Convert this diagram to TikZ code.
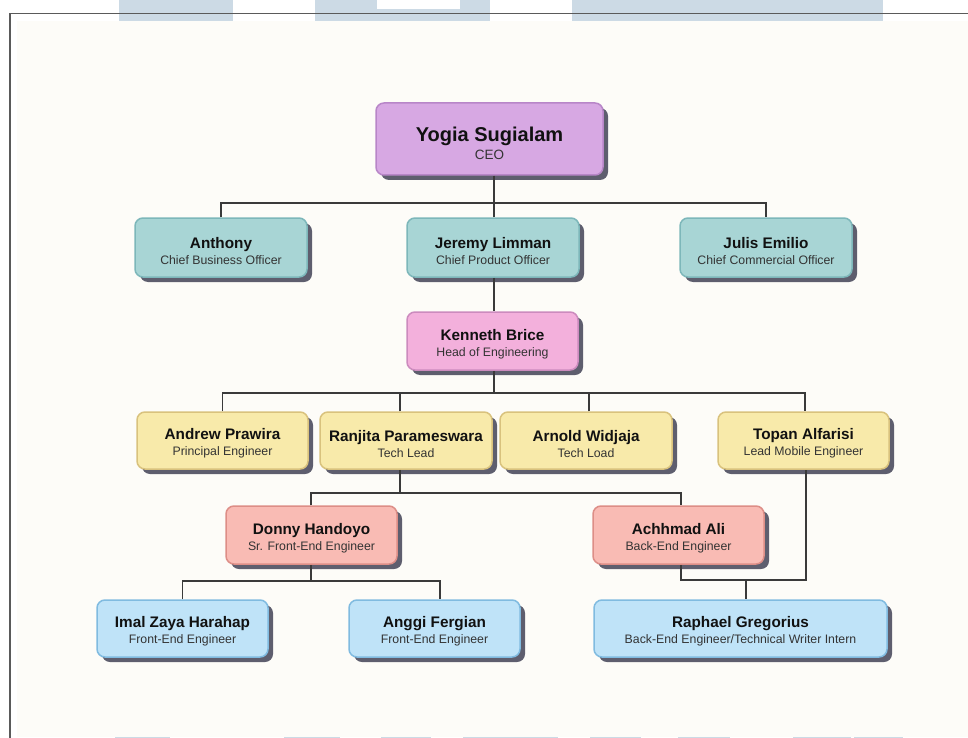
\documentclass[tikz,border=0pt]{standalone}
\usepackage{fontspec}
\setmainfont{Liberation Sans}
\usetikzlibrary{shadows}
\definecolor{cream}{HTML}{FDFCF8}
\definecolor{barc}{HTML}{CCDAE5}
\definecolor{framec}{HTML}{5A5A5A}
\definecolor{linec}{HTML}{3A3A3A}
\definecolor{shadowc}{HTML}{5E5E6E}
\definecolor{ceofill}{HTML}{D7A8E3}\definecolor{ceodraw}{HTML}{B886C8}
\definecolor{tealfill}{HTML}{A8D5D5}\definecolor{tealdraw}{HTML}{7DB7BA}
\definecolor{pinkfill}{HTML}{F3B0DC}\definecolor{pinkdraw}{HTML}{CC8BBE}
\definecolor{yelfill}{HTML}{F8EAAA}\definecolor{yeldraw}{HTML}{D9C27D}
\definecolor{salfill}{HTML}{F9BBB4}\definecolor{saldraw}{HTML}{DD8E87}
\definecolor{bluefill}{HTML}{BFE3F8}\definecolor{bluedraw}{HTML}{80BBE0}
\definecolor{namec}{HTML}{111111}
\definecolor{subc}{HTML}{333333}
\newcommand{\nm}[1]{{\fontsize{15.3}{16}\selectfont\bfseries\color{namec}\rule{0pt}{17.5pt}#1}}
\newcommand{\sbt}[1]{{\color{subc}#1}}
\begin{document}
\begin{tikzpicture}[x=1pt,y=-1pt,
  card/.style={rounded corners=8pt, line width=1.5pt, inner sep=0pt, align=center,
    minimum width=171pt, minimum height=57pt,
    font=\fontsize{12.3}{16}\selectfont,
    drop shadow={shadow xshift=5pt, shadow yshift=-5pt, fill=shadowc, opacity=1}},
  ceocard/.style={card, fill=ceofill, draw=ceodraw, minimum width=227pt, minimum height=72pt,
    font=\fontsize{13.5}{18}\selectfont},
  tealcard/.style={card, fill=tealfill, draw=tealdraw, minimum width=172pt, minimum height=59pt},
  pinkcard/.style={card, fill=pinkfill, draw=pinkdraw, minimum height=58pt},
  yelcard/.style={card, fill=yelfill, draw=yeldraw},
  salcard/.style={card, fill=salfill, draw=saldraw, minimum height=58pt},
  bluecard/.style={card, fill=bluefill, draw=bluedraw},
  conn/.style={draw=linec, line width=1.1pt}]
\useasboundingbox (0,0) rectangle (968,738);
\fill[white] (0,0) rectangle (968,738);
% background decoration
\fill[barc] (118.5,0) rectangle (233,21);
\fill[barc] (315,0) rectangle (489.5,21);
\fill[white] (376.5,0) rectangle (460,9);
\fill[barc] (572,0) rectangle (883,21);
\foreach \a/\b in {115/170,284/340,381/431,463/558,590/641,678/730,793/851,854/903}
  \fill[barc] (\a,736.5) rectangle (\b,738);
\fill[cream] (17,21) rectangle (968,736.5);
\draw[framec, line width=1.3pt] (10,738) -- (10,13.5) -- (968,13.5);

% nodes
\node[ceocard] (ceo) at (489.5,139) {{\fontsize{20}{18}\selectfont\bfseries\color{namec}\rule{0pt}{23pt}Yogia Sugialam}\\\sbt{CEO}};
\node[tealcard] (ant) at (221,247.5) {\nm{Anthony}\\\sbt{Chief Business Officer}};
\node[tealcard] (jer) at (493,247.5) {\nm{Jeremy Limman}\\\sbt{Chief Product Officer}};
\node[tealcard] (jul) at (766,247.5) {\nm{Julis Emilio}\\\sbt{Chief Commercial Officer}};
\node[pinkcard] (ken) at (492.5,341) {\nm{Kenneth Brice}\\\sbt{Head of Engineering}};
\node[yelcard] (and) at (222.5,440.5) {\nm{Andrew Prawira}\\\sbt{Principal Engineer}};
\node[yelcard, minimum width=172pt] (ran) at (406,440.5) {\nm{Ranjita Parameswara}\\\sbt{Tech Lead}};
\node[yelcard, minimum width=172pt] (arn) at (586,440.5) {\nm{Arnold Widjaja}\\\sbt{Tech Load}};
\node[yelcard] (top) at (803.5,440.5) {\nm{Topan Alfarisi}\\\sbt{Lead Mobile Engineer}};
\node[salcard] (don) at (311.5,535) {\nm{Donny Handoyo}\\\sbt{Sr. Front-End Engineer}};
\node[salcard] (ach) at (678.5,535) {\nm{Achhmad Ali}\\\sbt{Back-End Engineer}};
\node[bluecard] (ima) at (182.5,628.5) {\nm{Imal Zaya Harahap}\\\sbt{Front-End Engineer}};
\node[bluecard] (ang) at (434.5,628.5) {\nm{Anggi Fergian}\\\sbt{Front-End Engineer}};
\node[bluecard, minimum width=293pt] (rap) at (740.5,628.5) {\nm{Raphael Gregorius}\\\sbt{Back-End Engineer/Technical Writer Intern}};

% connectors
\coordinate (j1) at (494,203);
\draw[conn] ([xshift=4.5pt]ceo.south) -- (j1);
\draw[conn] (ant.north) |- (j1) -| (jul.north);
\draw[conn] ([xshift=1pt]jer.north) -- (j1);
\draw[conn] ([xshift=1pt]jer.south) -- ([xshift=1.5pt]ken.north);
\coordinate (j2) at (494,393);
\draw[conn] ([xshift=1.5pt]ken.south) -- (j2);
\draw[conn] (and.north) |- (j2) -| ([xshift=1.5pt]top.north);
\draw[conn] ([xshift=-6pt]ran.north) |- (j2);
\draw[conn] ([xshift=3pt]arn.north) |- (j2);
\coordinate (j3) at (400,493);
\draw[conn] ([xshift=-6pt]ran.south) -- (j3);
\draw[conn] ([xshift=-0.5pt]don.north) |- (j3) -| ([xshift=2.5pt]ach.north);
\coordinate (j4) at (311,581);
\draw[conn] ([xshift=-0.5pt]don.south) -- (j4);
\draw[conn] (ima.north) |- (j4) -| ([xshift=5.5pt]ang.north);
\coordinate (j5) at (746,580);
\draw[conn] ([xshift=2.5pt]ach.south) |- (j5) -| ([xshift=2.5pt]top.south);
\draw[conn] (j5) -- ([xshift=5.5pt]rap.north);
\end{tikzpicture}
\end{document}
